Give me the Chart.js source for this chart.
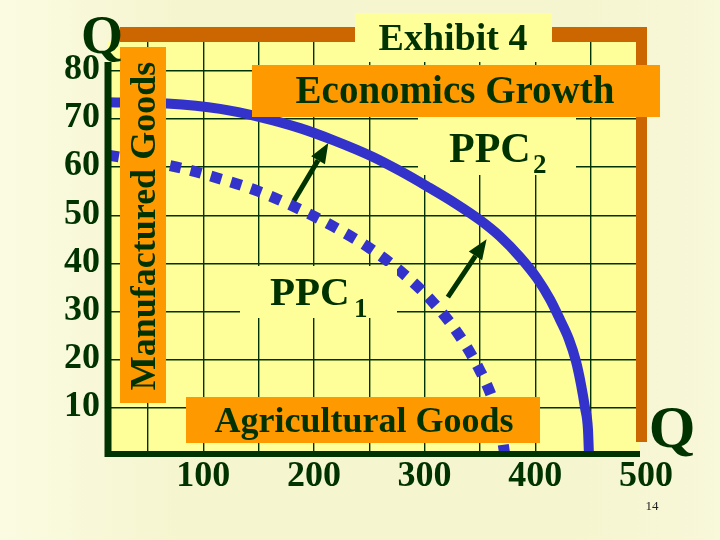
<!DOCTYPE html>
<html>
<head>
<meta charset="utf-8">
<title>Exhibit 4 - Economics Growth</title>
<script src="https://cdn.jsdelivr.net/npm/chart.js@4.4.1/dist/chart.umd.min.js"></script>
<style>
  html, body { margin: 0; padding: 0; background: #f6f6d1; }
</style>
</head>
<body>
<canvas id="ppcChart" width="720" height="540"></canvas>
<script>
  // axis ticks
  const xLabels = [100, 200, 300, 400, 500];
  const xGrid = [50, 100, 150, 200, 250, 300, 350, 400, 450];
  const yLabels = [10, 20, 30, 40, 50, 60, 70, 80];

  // PPC1 (dotted) and PPC2 (solid): agricultural goods (x) vs manufactured goods (y)
  const ppc1Agri = [14, 76.3, 113.4, 149.5, 184.7, 217.3, 250.7, 280.5, 307.6, 330.2, 348.2, 360.9, 368.1, 372.6];
  const ppc1Manu = [62.5, 60.0, 57.7, 55.0, 51.5, 47.7, 43.1, 37.9, 31.9, 25.4, 18.5, 12.1, 6.5, 0];
  const ppc2Agri = [14, 67.3, 115.2, 151.3, 187.4, 217.3, 253.4, 277.8, 302.2, 327.5, 350.0, 368.1, 386.2, 401.5, 413.3, 422.3, 430.4, 436.8, 441.3, 444.9, 447.6, 448.5];
  const ppc2Manu = [73.5, 73.2, 72.1, 70.4, 68.1, 65.6, 62.1, 59.2, 56.0, 52.5, 49.0, 45.6, 41.3, 36.9, 32.5, 28.3, 24.2, 19.6, 14.8, 10.0, 5.4, 0];

  // growth arrows, from PPC1 out to PPC2
  const arrowFromX = [182, 321];
  const arrowFromY = [53, 33];
  const arrowToX = [213, 356];
  const arrowToY = [65, 45];

  const INK = '#003300';
  const PLOT_BG = '#ffff99';
  const ORANGE = '#ff9900';
  const BROWN = '#cc6600';
  const BLUE = '#3333cc';
  const SERIF = '"Liberation Serif", "Times New Roman", serif';

  const toPoints = (xs, ys) => xs.map((x, i) => ({ x: x, y: ys[i] }));

  function box(ctx, x, y, w, h, color) {
    ctx.fillStyle = color;
    ctx.fillRect(x, y, w, h);
  }

  function text(ctx, str, x, y, size, align) {
    ctx.font = 'bold ' + size + 'px ' + SERIF;
    ctx.textAlign = align || 'center';
    ctx.textBaseline = 'alphabetic';
    ctx.fillStyle = INK;
    ctx.fillText(str, x, y);
  }

  const deco = {
    id: 'deco',
    beforeDraw(chart) {
      const { ctx, chartArea: a } = chart;
      ctx.save();
      const g = ctx.createLinearGradient(0, 0, chart.width, 0);
      g.addColorStop(0, '#fbfbe2');
      g.addColorStop(0.25, '#f5f5cf');
      g.addColorStop(0.8, '#f5f5cf');
      g.addColorStop(1, '#f8f8da');
      ctx.fillStyle = g;
      ctx.fillRect(0, 0, chart.width, chart.height);
      ctx.fillStyle = PLOT_BG;
      ctx.fillRect(a.left, a.top, a.right - a.left - 6, a.bottom - a.top);
      ctx.restore();
    },
    afterDatasetsDraw(chart) {
      const { ctx, chartArea: a } = chart;
      const xs = chart.scales.x, ys = chart.scales.y;
      ctx.save();

      // frame bars on top and right
      box(ctx, 120, 27, 527, 15, BROWN);
      box(ctx, 636, 27, 11, 415, BROWN);

      // axes
      ctx.strokeStyle = INK;
      ctx.lineWidth = 7;
      ctx.beginPath();
      ctx.moveTo(a.left, a.top + 20);
      ctx.lineTo(a.left, a.bottom + 6);
      ctx.stroke();
      ctx.lineWidth = 6;
      ctx.beginPath();
      ctx.moveTo(a.left - 3, a.bottom + 3);
      ctx.lineTo(a.right - 6, a.bottom + 3);
      ctx.stroke();

      // title boxes
      box(ctx, 355, 13, 197, 49, PLOT_BG);
      text(ctx, 'Exhibit 4', 453, 50, 38);
      box(ctx, 252, 65, 408, 52, ORANGE);
      text(ctx, 'Economics Growth', 455, 103, 39);

      // axis titles
      box(ctx, 120, 47, 46, 356, ORANGE);
      ctx.save();
      ctx.translate(155, 226);
      ctx.rotate(-Math.PI / 2);
      text(ctx, 'Manufactured Goods', 0, 0, 36);
      ctx.restore();
      box(ctx, 186, 397, 354, 46, ORANGE);
      text(ctx, 'Agricultural Goods', 364, 432, 36);

      // curve labels
      box(ctx, 418, 117, 158, 58, PLOT_BG);
      text(ctx, 'PPC', 449, 162, 42, 'left');
      text(ctx, '2', 533, 173, 27, 'left');
      box(ctx, 240, 266, 157, 52, PLOT_BG);
      text(ctx, 'PPC', 270, 305, 41, 'left');
      text(ctx, '1', 354, 317, 27, 'left');

      // growth arrows
      ctx.strokeStyle = INK;
      ctx.fillStyle = INK;
      arrowFromX.forEach((fx, i) => {
        const x0 = xs.getPixelForValue(fx), y0 = ys.getPixelForValue(arrowFromY[i]);
        const x1 = xs.getPixelForValue(arrowToX[i]), y1 = ys.getPixelForValue(arrowToY[i]);
        const ang = Math.atan2(y1 - y0, x1 - x0);
        const hl = 20, hw = 8;
        const bx = x1 - hl * Math.cos(ang), by = y1 - hl * Math.sin(ang);
        ctx.lineWidth = 5;
        ctx.beginPath();
        ctx.moveTo(x0, y0);
        ctx.lineTo(bx, by);
        ctx.stroke();
        ctx.beginPath();
        ctx.moveTo(x1, y1);
        ctx.lineTo(bx + hw * Math.sin(ang), by - hw * Math.cos(ang));
        ctx.lineTo(bx - hw * Math.sin(ang), by + hw * Math.cos(ang));
        ctx.closePath();
        ctx.fill();
      });

      // quantity markers
      text(ctx, 'Q', 102, 53, 54);
      text(ctx, 'Q', 672, 447, 60);
      ctx.font = '13px ' + SERIF;
      ctx.fillStyle = '#222';
      ctx.textAlign = 'center';
      ctx.fillText('14', 652, 510);
      ctx.restore();
    }
  };

  const tickFont = { family: SERIF, size: 36, weight: 'bold' };

  new Chart(document.getElementById('ppcChart'), {
    type: 'scatter',
    data: {
      datasets: [{
        label: 'PPC1',
        data: toPoints(ppc1Agri, ppc1Manu),
        showLine: true,
        borderColor: BLUE,
        borderWidth: 11,
        borderDash: [11, 10],
        borderCapStyle: 'butt',
        cubicInterpolationMode: 'monotone',
        pointRadius: 0
      }, {
        label: 'PPC2',
        data: toPoints(ppc2Agri, ppc2Manu),
        showLine: true,
        borderColor: BLUE,
        borderWidth: 10,
        cubicInterpolationMode: 'monotone',
        pointRadius: 0
      }]
    },
    options: {
      responsive: false,
      animation: false,
      layout: { padding: { left: 0, top: 42, right: 74, bottom: 0 } },
      plugins: {
        legend: { display: false },
        tooltip: { enabled: false }
      },
      scales: {
        x: {
          type: 'linear',
          min: 14,
          max: 500,
          afterBuildTicks: s => { s.ticks = xGrid.concat([500]).map(v => ({ value: v })); },
          afterFit: s => { s.height = 89; },
          border: { display: false },
          grid: {
            color: c => (c.tick && c.tick.value === 500) ? 'rgba(0,0,0,0)' : INK,
            lineWidth: 1.4,
            drawTicks: false
          },
          ticks: {
            autoSkip: false,
            maxRotation: 0,
            minRotation: 0,
            padding: 4,
            color: INK,
            font: tickFont,
            callback: v => xLabels.includes(v) ? String(v) : ''
          }
        },
        y: {
          type: 'linear',
          min: 1,
          max: 86,
          afterBuildTicks: s => { s.ticks = yLabels.map(v => ({ value: v })); },
          afterFit: s => { s.width = 108; },
          border: { display: false },
          grid: { color: INK, lineWidth: 1.4, drawTicks: false },
          ticks: {
            padding: 8,
            labelOffset: -1,
            color: INK,
            font: tickFont,
            callback: v => String(v)
          }
        }
      }
    },
    plugins: [deco]
  });
</script>
</body>
</html>
